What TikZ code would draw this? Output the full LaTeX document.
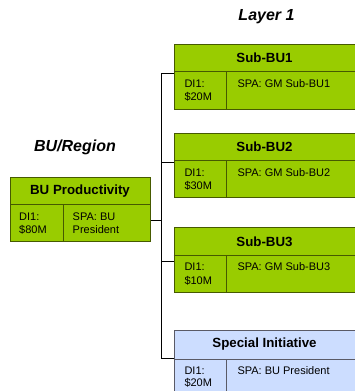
\documentclass[tikz,border=0pt]{standalone}
\usepackage{fontspec}
\setmainfont{Liberation Sans}
\definecolor{leaf}{HTML}{99CC00}
\definecolor{leafline}{HTML}{465A00}
\definecolor{sky}{HTML}{CCDDFF}
\definecolor{skyline}{HTML}{5A5A66}
\tikzset{
  card/.style={draw=leafline, fill=leaf, line width=1pt, inner sep=0pt, anchor=north west},
  bluecard/.style={card, draw=skyline, fill=sky},
  rule/.style={draw=leafline, line width=1pt},
  bluerule/.style={draw=skyline, line width=1pt},
  title/.style={inner sep=0pt, font=\fontsize{13.3}{15}\selectfont\bfseries},
  body/.style={inner sep=0pt, anchor=base west, font=\fontsize{11}{13}\selectfont},
  layer/.style={inner sep=0pt, font=\fontsize{16}{18}\selectfont\bfseries\itshape},
  link/.style={draw=black, line width=0.9pt},
}
\begin{document}
\begin{tikzpicture}[x=1pt, y=-1pt]
\useasboundingbox (0,0) rectangle (355,391);
\clip (0,0) rectangle (355,391);

% column headings
\node[layer] (hdrbu) at (75,147) {BU/Region};
\node[layer] (hdrl1) at (266.5,17) {Layer 1};

% BU box
\node[card, minimum width=140pt, minimum height=64.5pt] (bu) at (10,176.7) {};
\draw[rule] (10,204.5) -- (150,204.5);
\draw[rule] (63.3,204.5) -- (63.3,241.2);
\node[title] (but) at (80,191) {BU Productivity};
\node[body] (bua) at (19,220) {DI1:};
\node[body] (bub) at (19,233.5) {\$80M};
\node[body] (buc) at (72.5,220) {SPA: BU};
\node[body] (bud) at (72.5,233.5) {President};

% Sub-BU1
\node[card, minimum width=181pt, minimum height=65pt] (s1) at (173.5,43.5) {};
\draw[rule] (173.5,71) -- (354.5,71);
\draw[rule] (226.7,71) -- (226.7,108.5);
\node[title] (s1t) at (264.5,57.5) {Sub-BU1};
\node[body] (s1a) at (184.3,87.5) {DI1:};
\node[body] (s1b) at (184.3,100.5) {\$20M};
\node[body] (s1c) at (237.3,87.5) {SPA: GM Sub-BU1};

% Sub-BU2
\node[card, minimum width=181pt, minimum height=64.5pt] (s2) at (173.5,132.5) {};
\draw[rule] (173.5,160) -- (354.5,160);
\draw[rule] (226.7,160) -- (226.7,197);
\node[title] (s2t) at (264.5,146.5) {Sub-BU2};
\node[body] (s2a) at (184.3,176.3) {DI1:};
\node[body] (s2b) at (184.3,189.3) {\$30M};
\node[body] (s2c) at (237.3,176.3) {SPA: GM Sub-BU2};

% Sub-BU3
\node[card, minimum width=181pt, minimum height=64.5pt] (s3) at (173.5,227.3) {};
\draw[rule] (173.5,255) -- (354.5,255);
\draw[rule] (226.7,255) -- (226.7,291.8);
\node[title] (s3t) at (264.5,241.5) {Sub-BU3};
\node[body] (s3a) at (184.3,270.7) {DI1:};
\node[body] (s3b) at (184.3,284) {\$10M};
\node[body] (s3c) at (237.3,270.7) {SPA: GM Sub-BU3};

% Special Initiative
\node[bluecard, minimum width=181pt, minimum height=66pt] (sp) at (173.5,329.5) {};
\draw[bluerule] (173.5,359.3) -- (354.5,359.3);
\draw[bluerule] (226.7,359.3) -- (226.7,396);
\node[title] (spt) at (264.5,344.5) {Special Initiative};
\node[body] (spa) at (184.3,374) {DI1:};
\node[body] (spb) at (184.3,386.7) {\$20M};
\node[body] (spc) at (237.3,374) {SPA: BU President};

% connectors
\coordinate (tt) at (161.7,73.3);
\coordinate (tb) at (161.7,358.5);
\coordinate (j2) at (161.7,162.5);
\coordinate (j3) at (161.7,261);
\coordinate (jb) at (161.7,220);
\draw[link] (tt) -- (tb);
\draw[link] (jb) -- (jb -| bu.east);
\draw[link] (tt) -- (tt -| s1.west);
\draw[link] (j2) -- (j2 -| s2.west);
\draw[link] (j3) -- (j3 -| s3.west);
\draw[link] (tb) -- (tb -| sp.west);
\end{tikzpicture}
\end{document}
